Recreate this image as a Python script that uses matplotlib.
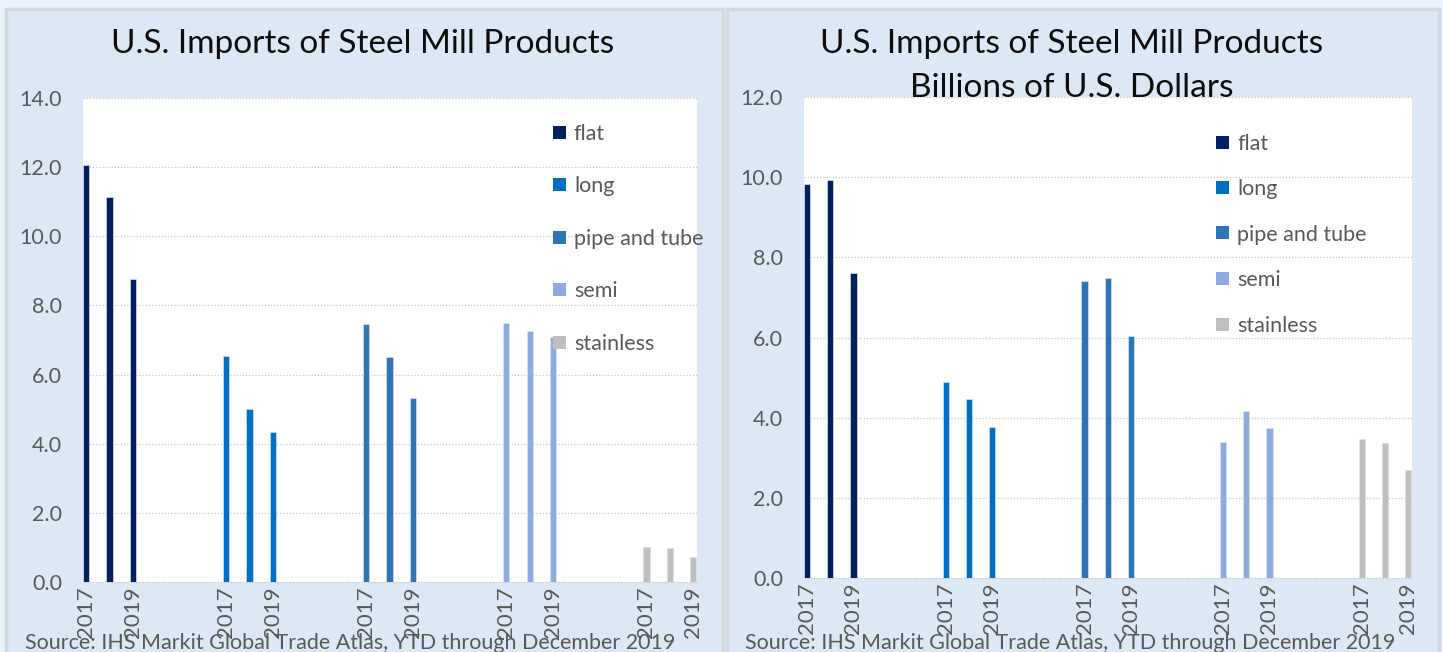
import matplotlib
matplotlib.use('Agg')
from matplotlib import pyplot as plt
from matplotlib.patches import Rectangle
from matplotlib.transforms import ScaledTranslation

# data
products = ['flat', 'long', 'pipe and tube', 'semi', 'stainless']
years = ['2017', '2018', '2019']
colors = ['#002060', '#0070c0', '#2e75b6', '#8faadc', '#bfbfbf']

# left chart: volume
vol_flat = [12.05, 11.13, 8.76]
vol_long = [6.53, 5.00, 4.34]
vol_pipe = [7.46, 6.50, 5.32]
vol_semi = [7.49, 7.25, 7.08]
vol_stainless = [1.01, 0.98, 0.72]

# right chart: billions of U.S. dollars
usd_flat = [9.83, 9.93, 7.60]
usd_long = [4.89, 4.47, 3.77]
usd_pipe = [7.41, 7.48, 6.03]
usd_semi = [3.39, 4.16, 3.74]
usd_stainless = [3.47, 3.37, 2.69]

source = 'Source: IHS Markit Global Trade Atlas, YTD through December 2019'

W, H = 1443, 652
plt.rcParams['font.family'] = ['Lato', 'DejaVu Sans']
fig = plt.figure(figsize=(W / 100, H / 100), dpi=100)
fig.patch.set_facecolor('#eaf2fb')


def fx(px):
    return px / W


def fy(py):
    # py measured from the top of the image
    return 1 - py / H


# panel backgrounds
for x0, x1 in [(6, 723), (727, 1439)]:
    fig.patches.append(Rectangle((fx(x0), fy(H + 5)), fx(x1 - x0), fy(9) - fy(H + 5),
                                 transform=fig.transFigure, facecolor='#dce8f5',
                                 edgecolor='#d2d8de', linewidth=2.5, zorder=-5))


def draw_panel(box, series, ymax, title, title_x, legend_xy, legend_step, src_x):
    left, top, right, bottom = box
    ax = fig.add_axes([fx(left), fy(bottom), fx(right - left), fy(top) - fy(bottom)])
    ax.set_facecolor('white')
    for g, vals in enumerate(series):
        xs = [g * 6 + i for i in range(len(years))]
        ax.bar(xs, vals, width=0.27, color=colors[g], edgecolor='#d6e0ee',
               linewidth=0.5, zorder=3)
    ax.set_xlim(-0.14, 26.17)
    ax.set_ylim(0, ymax)
    n = int(ymax / 2) + 1
    ax.set_yticks([v * 2.0 for v in range(n)])
    ax.set_yticklabels(['%.1f' % (v * 2.0) for v in range(n)])
    ticks, labels = [], []
    for g in range(len(products)):
        ticks += [g * 6, g * 6 + 2]
        labels += [years[0], years[2]]
    ax.set_xticks(ticks)
    ax.set_xticklabels(labels, rotation=90, va='top', ha='center')
    offset = ScaledTranslation(7 / 100, 0, fig.dpi_scale_trans)
    for lab in ax.get_xticklabels():
        lab.set_transform(lab.get_transform() + offset)
    ax.tick_params(axis='both', length=0, colors='#595959')
    ax.tick_params(axis='y', labelsize=15.5, pad=15)
    ax.tick_params(axis='x', labelsize=16, pad=3)
    for s in ax.spines.values():
        s.set_visible(False)
    ax.yaxis.grid(True, linestyle=(0, (1, 1.5)), color='#c8c8c8', linewidth=0.9)
    ax.set_axisbelow(True)
    for line in ax.get_ygridlines():
        line.set_clip_on(False)

    fig.text(fx(title_x), fy(29), title, ha='center', va='top', fontsize=24,
             color='#0d0d0d', linespacing=1.58)

    lx, ly = legend_xy
    for i, name in enumerate(products):
        cy = ly + i * legend_step
        fig.patches.append(Rectangle((fx(lx), fy(cy + 6.5)), fx(13), fy(cy - 6.5) - fy(cy + 6.5),
                                     transform=fig.transFigure, facecolor=colors[i],
                                     edgecolor='none', zorder=5))
        fig.text(fx(lx + 21), fy(cy), name, ha='left', va='center_baseline',
                 fontsize=15.5, color='#595959', zorder=5)

    fig.text(fx(src_x), fy(633), source, ha='left', va='top', fontsize=15.5, color='#595959')
    return ax


draw_panel((83, 98, 697, 582),
           [vol_flat, vol_long, vol_pipe, vol_semi, vol_stainless], 14.0,
           'U.S. Imports of Steel Mill Products', 363, (553, 132), 52.5, 25)
draw_panel((804, 97, 1412, 578),
           [usd_flat, usd_long, usd_pipe, usd_semi, usd_stainless], 12.0,
           'U.S. Imports of Steel Mill Products\nBillions of U.S. Dollars', 1072,
           (1216, 142), 45.5, 745)

fig.savefig('out.png', dpi=100, facecolor=fig.get_facecolor())
